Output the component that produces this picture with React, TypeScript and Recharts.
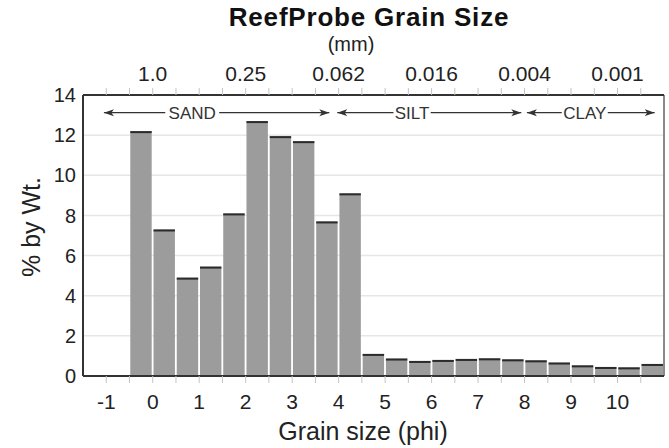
import { BarChart, Bar, XAxis, YAxis, CartesianGrid, ReferenceLine, ReferenceDot } from 'recharts';

// bin centres in phi (half-phi bins) and weight percent per bin
const phiCenters = [
  -0.25, 0.25, 0.75, 1.25, 1.75, 2.25, 2.75, 3.25, 3.75, 4.25, 4.75, 5.25,
  5.75, 6.25, 6.75, 7.25, 7.75, 8.25, 8.75, 9.25, 9.75, 10.25, 10.75,
];
const weightPct = [
  12.2, 7.3, 4.9, 5.45, 8.1, 12.7, 11.95, 11.7, 7.7, 9.1, 1.1, 0.87,
  0.75, 0.8, 0.85, 0.88, 0.83, 0.78, 0.67, 0.53, 0.45, 0.43, 0.6,
];

const phiTicks = [-1, -0.5, 0, 0.5, 1, 1.5, 2, 2.5, 3, 3.5, 4, 4.5, 5, 5.5, 6, 6.5, 7, 7.5, 8, 8.5, 9, 9.5, 10, 10.5];
const phiLabels = [-1, 0, 1, 2, 3, 4, 5, 6, 7, 8, 9, 10];
const mmPhi = [0, 2, 4, 6, 8, 10];
const mmLabels = ['1.0', '0.25', '0.062', '0.016', '0.004', '0.001'];
const yTicks = [0, 2, 4, 6, 8, 10, 12, 14];

// size classes (phi ranges of the arrows, and where the text interrupts them)
const classNames = ['SAND', 'SILT', 'CLAY'];
const classFrom = [-1.05, 3.97, 8.05];
const classTo = [3.8, 7.93, 10.8];
const classGap = [[0.27, 1.43], [5.18, 5.98], [8.8, 9.79]];
const classY = 13.12;

const data = phiCenters.map((phi, i) => ({ phi, pct: weightPct[i] }));

const FONT = '"Liberation Sans", Arial, Helvetica, sans-serif';
const INK = '#222';

const GrainBar = (p: any) => {
  const { x, y, width, height } = p;
  if (!height || height <= 0) return null;
  return (
    <g>
      <rect x={x + 0.8} y={y} width={width - 1.6} height={height} fill="#9c9c9c" />
      <rect x={x + 0.8} y={y} width={width - 1.6} height={2} fill="#2b2b2b" />
    </g>
  );
};

const arrowShape = (atStart: boolean) => (p: any) => (
  <line
    x1={p.x1} y1={p.y1} x2={p.x2} y2={p.y2}
    stroke="#333" strokeWidth={1.3}
    markerStart={atStart ? 'url(#arrowHead)' : undefined}
    markerEnd={atStart ? undefined : 'url(#arrowHead)'}
  />
);

const classText = (name: string) => (p: any) => (
  <text x={p.cx} y={p.cy} dy="0.36em" textAnchor="middle" fontSize={17} fill="#333">{name}</text>
);

export default function App() {
  return (
    <div style={{ position: 'absolute', left: 0, top: 0, width: 669, height: 448, background: '#fff', fontFamily: FONT }}>
      <BarChart
        width={669} height={448} data={data}
        margin={{ top: 0, right: 5, bottom: 0, left: 23 }}
        barCategoryGap={0} barGap={0}
      >
        <defs>
          <marker id="arrowHead" markerWidth={11} markerHeight={8} refX={10} refY={4}
            orient="auto-start-reverse" markerUnits="userSpaceOnUse">
            <path d="M0,0.5 L10,4 L0,7.5 L2.5,4 z" fill="#333" />
          </marker>
        </defs>
        <CartesianGrid vertical={false} stroke="#e6e6e6" strokeWidth={1.5} />
        <XAxis
          dataKey="phi" type="number" domain={[-1.5, 11]} ticks={phiTicks}
          height={72} interval={0}
          tickSize={7} tickMargin={11}
          tickLine={{ stroke: '#c4c4c4' }}
          axisLine={{ stroke: '#333', strokeWidth: 2 }}
          tick={{ fontSize: 21, fill: INK }}
          tickFormatter={(v: number) => (phiLabels.includes(v) ? String(v) : '')}
        />
        <XAxis
          xAxisId="top" dataKey="phi" orientation="top" type="number" domain={[-1.5, 11]} ticks={phiTicks}
          height={95} interval={0} allowDataOverflow
          tickSize={7} tickMargin={7}
          tickLine={{ stroke: '#c4c4c4' }}
          axisLine={{ stroke: '#333', strokeWidth: 2 }}
          tick={{ fontSize: 21, fill: INK }}
          tickFormatter={(v: number) => {
            const k = mmPhi.indexOf(v);
            return k >= 0 ? mmLabels[k] : '';
          }}
        />
        <YAxis
          type="number" domain={[0, 14]} ticks={yTicks} width={60}
          tickLine={false} tickSize={0} tickMargin={7}
          axisLine={{ stroke: '#333', strokeWidth: 2 }}
          tick={{ fontSize: 20, fill: INK }}
        />
        <ReferenceLine x={11} stroke="#8a8a8a" strokeWidth={2} />
        <Bar dataKey="pct" shape={GrainBar} isAnimationActive={false} />
        {classNames.map((name, i) => (
          <ReferenceLine key={name + 'a'} segment={[{ x: classFrom[i], y: classY }, { x: classGap[i][0], y: classY }]}
            shape={arrowShape(true)} ifOverflow="visible" />
        ))}
        {classNames.map((name, i) => (
          <ReferenceLine key={name + 'b'} segment={[{ x: classGap[i][1], y: classY }, { x: classTo[i], y: classY }]}
            shape={arrowShape(false)} ifOverflow="visible" />
        ))}
        {classNames.map((name, i) => (
          <ReferenceDot key={name + 't'} x={(classGap[i][0] + classGap[i][1]) / 2} y={classY} r={0}
            shape={classText(name)} ifOverflow="visible" />
        ))}
        <text x={369} y={26} textAnchor="middle" fontSize={26} fontWeight="bold" letterSpacing={0.8} fill="#111">
          ReefProbe Grain Size
        </text>
        <text x={351} y={51} textAnchor="middle" fontSize={20} fill={INK}>(mm)</text>
        <text x={363} y={440} textAnchor="middle" fontSize={25} fill={INK}>Grain size (phi)</text>
        <text x={-227} y={40} transform="rotate(-90)" textAnchor="middle" fontSize={25} fill={INK}>% by Wt.</text>
      </BarChart>
    </div>
  );
}
